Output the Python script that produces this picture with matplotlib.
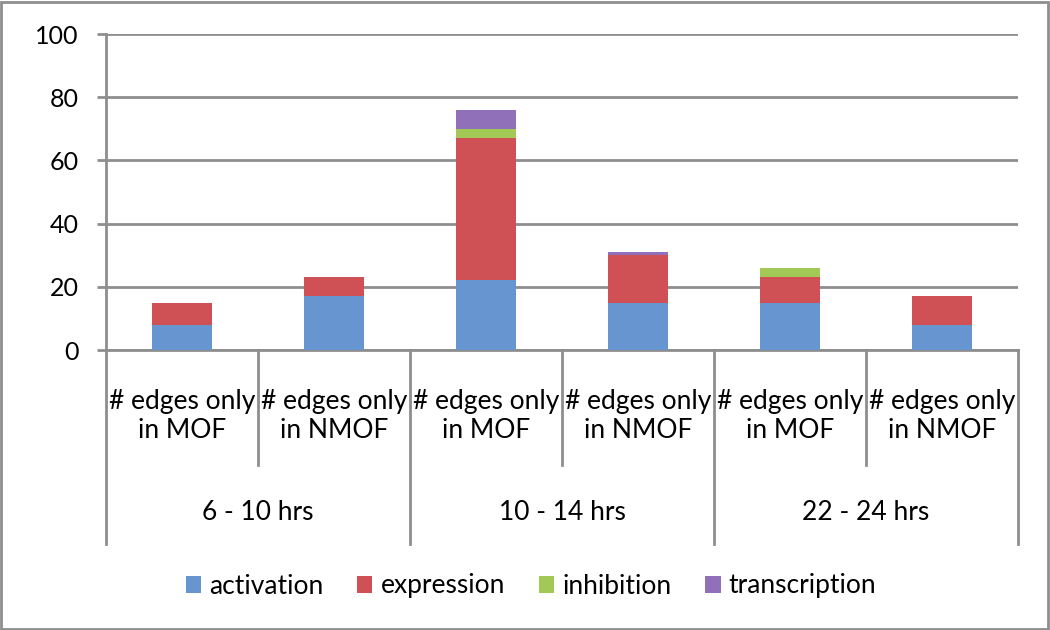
import matplotlib
matplotlib.use("Agg")
import matplotlib.pyplot as plt
from matplotlib import font_manager
from matplotlib.patches import Rectangle, Patch
from matplotlib.lines import Line2D
import matplotlib.transforms as mtransforms

names = {f.name for f in font_manager.fontManager.ttflist}
for cand in ["Liberation Sans Narrow", "Lato", "DejaVu Sans"]:
    if cand in names:
        FONT = cand
        break
plt.rcParams['font.family'] = [FONT, 'DejaVu Sans']

groups = ["6 - 10 hrs", "10 - 14 hrs", "22 - 24 hrs"]
subcats = ["# edges only\nin MOF", "# edges only\nin NMOF"]
series = ["activation", "expression", "inhibition", "transcription"]
activation = [8, 17, 22, 15, 15, 8]
expression = [7, 6, 45, 15, 8, 9]
inhibition = [0, 0, 3, 0, 3, 0]
transcription = [0, 0, 6, 1, 0, 0]
yticks = [0, 20, 40, 60, 80, 100]

colors = ["#6795D0", "#CF5055", "#A2C856", "#9070B9"]
grid_c = "#8E8E8E"

W, H = 1050, 630
fig = plt.figure(figsize=(W / 100, H / 100), dpi=100)
ax = fig.add_axes([106 / W, 1 - 350 / H, 912 / W, 316 / H])

x = list(range(6))
bottom = [0] * 6
for vals, c, name in zip([activation, expression, inhibition, transcription], colors, series):
    ax.bar(x, vals, width=0.4, bottom=bottom, color=c, label=name, zorder=3)
    bottom = [b + v for b, v in zip(bottom, vals)]

ax.set_xlim(-0.5, 5.5)
ax.set_ylim(0, 100)
ax.set_yticks(yticks)
ax.set_yticklabels([str(t) for t in yticks], fontsize=18)
ax.tick_params(axis='y', length=6.5, width=2, color=grid_c, direction='out', pad=13)
ax.set_xticks([])
ax.yaxis.grid(True, color=grid_c, linewidth=2, zorder=0)
for s in ['top', 'right']:
    ax.spines[s].set_visible(False)
ax.spines['left'].set_color(grid_c)
ax.spines['left'].set_linewidth(2)
ax.spines['bottom'].set_color(grid_c)
ax.spines['bottom'].set_linewidth(2)

trans = mtransforms.blended_transform_factory(ax.transData, ax.transAxes)
inner_y = (350 - 465) / 316
outer_y = (350 - 544) / 316
for i in range(7):
    xb = i - 0.5
    yb = outer_y if i % 2 == 0 else inner_y
    ax.add_line(Line2D([xb, xb], [0, yb], transform=trans, color=grid_c,
                       linewidth=2, clip_on=False))
for i in range(6):
    ax.text(i, (350 - 416) / 316, subcats[i % 2], transform=trans, ha='center',
            va='center', fontsize=19, linespacing=1.25)
for g, name in enumerate(groups):
    ax.text(2 * g + 0.5, (350 - 512) / 316, name, transform=trans, ha='center',
            va='center', fontsize=19)

handles = [Patch(facecolor=c, edgecolor='none') for c in colors]
fig.legend(handles, series, loc='center', bbox_to_anchor=(531 / W, 1 - 586 / H),
           ncol=4, frameon=False, fontsize=19, handlelength=0.57, handleheight=0.6,
           handletextpad=0.3, columnspacing=1.3)

fig.patches.append(Rectangle((1 / W, 1 / H), 1 - 3 / W, 1 - 3 / H,
                             transform=fig.transFigure, fill=False,
                             edgecolor=grid_c, linewidth=2))

fig.savefig("out.png", dpi=100)
